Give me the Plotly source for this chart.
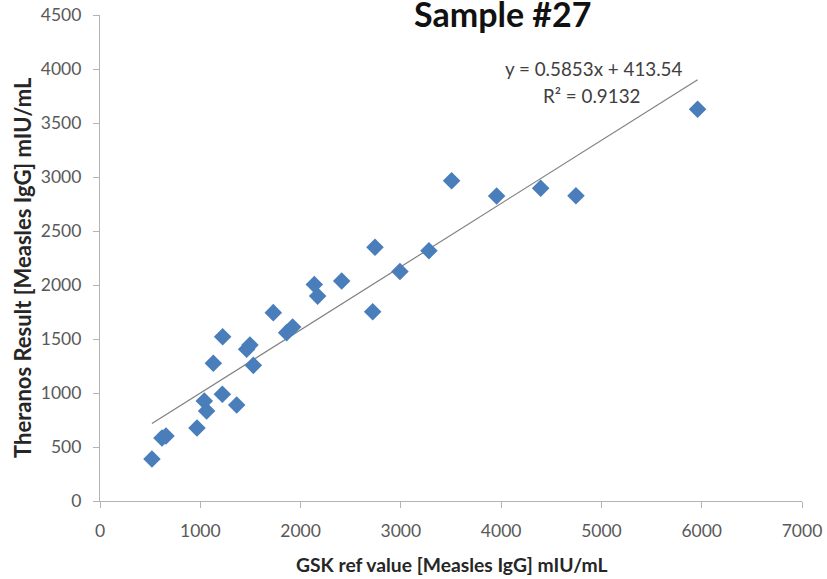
import plotly.graph_objects as go

# GSK reference values vs. Theranos results (mIU/mL)
gsk_ref = [518, 618, 658, 967, 1040, 1063, 1130, 1223, 1220, 1363,
           1462, 1495, 1529, 1728, 1861, 1921, 2137, 2170, 2410, 2719,
           2742, 2991, 3280, 3506, 3955, 4394, 4746, 5959]
theranos = [389, 583, 602, 676, 926, 833, 1275, 1521, 988, 889,
            1405, 1445, 1256, 1744, 1559, 1611, 2005, 1897, 2037, 1752,
            2349, 2125, 2318, 2966, 2824, 2895, 2827, 3627]

# Linear fit reported on the chart
slope = 0.5853
intercept = 413.54
r_squared = 0.9132

x_ticks = [0, 1000, 2000, 3000, 4000, 5000, 6000, 7000]
y_ticks = [0, 500, 1000, 1500, 2000, 2500, 3000, 3500, 4000, 4500]

FONT = "Lato, Open Sans, sans-serif"

fit_x = [min(gsk_ref), max(gsk_ref)]
fit_y = [slope * v + intercept for v in fit_x]

fig = go.Figure()
fig.add_trace(go.Scatter(
    x=fit_x, y=fit_y, mode="lines",
    line=dict(color="#808080", width=1.2),
    showlegend=False,
))
fig.add_trace(go.Scatter(
    x=gsk_ref, y=theranos, mode="markers",
    marker=dict(symbol="diamond", size=13.5, color="#4a7ebb", line=dict(width=0)),
    showlegend=False,
))

axis_common = dict(
    showgrid=False, zeroline=False, showline=True, automargin=False,
    linecolor="#b3b3b3", linewidth=1.2,
    ticks="outside", ticklen=6, tickcolor="#b3b3b3", tickwidth=1.2,
    tickfont=dict(family=FONT, size=17.5, color="#595959"),
)

fig.update_xaxes(range=[0, 7000], tickvals=x_ticks, ticklabelstandoff=8, **axis_common)
fig.update_yaxes(range=[0, 4500], tickvals=y_ticks, ticklabelstandoff=8, **axis_common)

# Chart title
fig.add_annotation(
    text="Sample #27", xref="paper", yref="paper",
    x=(503 - 100) / 702, y=1.0, xanchor="center", yanchor="middle",
    yshift=2, showarrow=False,
    font=dict(family=FONT, size=34, color="#111111", weight="bold"),
)
# Axis titles
fig.add_annotation(
    text="GSK ref value [Measles IgG] mIU/mL", xref="paper", yref="paper",
    x=(452 - 100) / 702, y=0.0, xanchor="center", yanchor="middle",
    yshift=-63, showarrow=False,
    font=dict(family=FONT, size=19.3, color="#262626", weight="bold"),
)
fig.add_annotation(
    text="Theranos Result [Measles IgG] mIU/mL", xref="paper", yref="paper",
    x=0.0, y=(501 - 268) / 486, xanchor="center", yanchor="middle",
    xshift=-78, textangle=-90, showarrow=False,
    font=dict(family=FONT, size=22, color="#262626", weight="bold"),
)
# Regression equation and R²
fig.add_annotation(
    text=f"y = {slope}x + {intercept}", xref="x", yref="y",
    x=4920, y=(501 - 68) / 0.108, xanchor="center", yanchor="middle",
    showarrow=False, font=dict(family=FONT, size=18.8, color="#404040"),
)
fig.add_annotation(
    text=f"R² = {r_squared}", xref="x", yref="y",
    x=4900, y=(501 - 95) / 0.108, xanchor="center", yanchor="middle",
    showarrow=False, font=dict(family=FONT, size=18.8, color="#404040"),
)

fig.update_layout(
    width=827, height=579,
    margin=dict(l=100, r=25, t=15, b=78),
    plot_bgcolor="white", paper_bgcolor="white",
)

fig.write_html("out.html")
